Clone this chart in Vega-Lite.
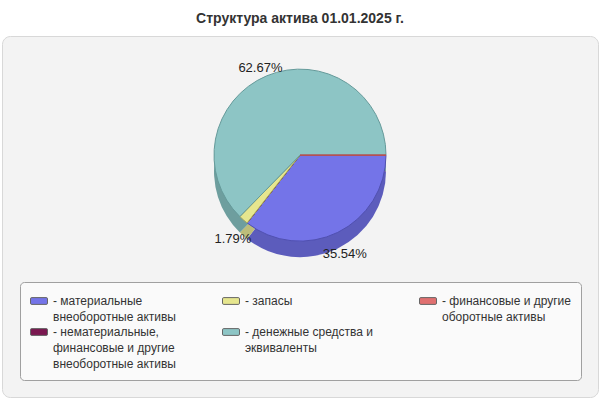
{
  "$schema": "https://vega.github.io/schema/vega-lite/v6.json",
  "width": 600,
  "height": 400,
  "autosize": {"type": "fit", "contains": "padding"},
  "padding": {"left": 2, "right": 2, "top": 12, "bottom": 3},
  "background": "white",
  "view": {"fill": "#f3f3f3", "stroke": "#d8d8d8", "cornerRadius": 8},
  "title": {"text": "Структура актива 01.01.2025 г.", "fontSize": 14, "font": "Liberation Sans", "fontWeight": "bold", "color": "#333333", "offset": 10, "anchor": "middle"},
  "data": {
    "values": [
      {"cat": "материальные|внеоборотные активы", "pct": 35.54, "ord": 1, "label": "35.54%"},
      {"cat": "нематериальные,|финансовые и другие|внеоборотные активы", "pct": 0, "ord": 2, "label": ""},
      {"cat": "запасы", "pct": 1.79, "ord": 3, "label": "1.79%"},
      {"cat": "денежные средства и|эквиваленты", "pct": 62.67, "ord": 4, "label": "62.67%"},
      {"cat": "финансовые и другие|оборотные активы", "pct": 0.01, "ord": 5, "label": ""}
    ]
  },
  "layer": [
    {
      "mark": {"type": "arc", "radius": 86, "y": {"expr": "height * 0.33 + 16"}, "strokeWidth": 1},
      "encoding": {
        "theta": {"field": "pct", "type": "quantitative", "stack": true, "scale": {"range": [1.5708, 7.854]}},
        "order": {"field": "ord", "type": "quantitative"},
        "color": {
          "field": "cat", "type": "nominal", "legend": null,
          "scale": {
            "domain": ["финансовые и другие|оборотные активы", "материальные|внеоборотные активы", "нематериальные,|финансовые и другие|внеоборотные активы", "запасы", "денежные средства и|эквиваленты"],
            "range": ["#b05050", "#5c5cbc", "#5a1038", "#bdbd7a", "#6e9e9e"]
          }
        }
      }
    },
    {
      "mark": {"type": "arc", "radius": 86, "y": {"expr": "height * 0.33"}, "strokeWidth": 1},
      "encoding": {
        "theta": {"field": "pct", "type": "quantitative", "stack": true},
        "order": {"field": "ord", "type": "quantitative"},
        "fill": {
          "field": "cat", "type": "nominal",
          "scale": {
            "domain": ["материальные|внеоборотные активы", "нематериальные,|финансовые и другие|внеоборотные активы", "запасы", "денежные средства и|эквиваленты", "финансовые и другие|оборотные активы"],
            "range": ["#7474e8", "#7a1850", "#e6e68e", "#8dc5c5", "#e07070"]
          },
          "legend": {
            "title": null,
            "orient": "none",
            "legendX": 18,
            "legendY": 246,
            "columns": 3,
            "gridAlign": "each",
            "columnPadding": 44,
            "rowPadding": 0,
            "symbolType": "M-0.85,-0.4L0.85,-0.4Q1,-0.4 1,-0.25L1,0.25Q1,0.4 0.85,0.4L-0.85,0.4Q-1,0.4 -1,0.25L-1,-0.25Q-1,-0.4 -0.85,-0.4Z",
            "symbolSize": 289,
            "symbolStrokeWidth": 1,
            "symbolStrokeColor": "#666666",
            "symbolOpacity": 1,
            "labelFont": "Liberation Sans",
            "labelFontSize": 12,
            "labelColor": "#333333",
            "labelOffset": 5,
            "labelLimit": 400,
            "labelBaseline": "middle",
            "labelExpr": "split('- ' + join(split(datum.label, '|'), '|\u00a0\u00a0') + (indexof(datum.label, '|') < 0 ? '|\u00a0' : ''), '|')",
            "padding": 10,
            "fillColor": "#fafafa",
            "strokeColor": "#a0a0a0",
            "cornerRadius": 4,
            "encode": {"labels": {"update": {"lineHeight": {"value": 16}}}}
          }
        },
        "stroke": {
          "field": "cat", "type": "nominal", "legend": null,
          "scale": {
            "domain": ["денежные средства и|эквиваленты", "финансовые и другие|оборотные активы", "материальные|внеоборотные активы", "нематериальные,|финансовые и другие|внеоборотные активы", "запасы"],
            "range": ["#659a9a", "#c04848", "#5050b0", "#5a1038", "#a8a860"]
          }
        }
      }
    },
    {
      "mark": {"type": "text", "radius": 102, "y": {"expr": "height * 0.33 + 7"}, "fontSize": 13, "font": "Liberation Sans", "color": "#222222"},
      "encoding": {
        "theta": {"field": "pct", "type": "quantitative", "stack": true},
        "order": {"field": "ord", "type": "quantitative"},
        "text": {"field": "label", "type": "nominal"}
      }
    }
  ],
  "config": {
    "font": "Liberation Sans"
  }
}
